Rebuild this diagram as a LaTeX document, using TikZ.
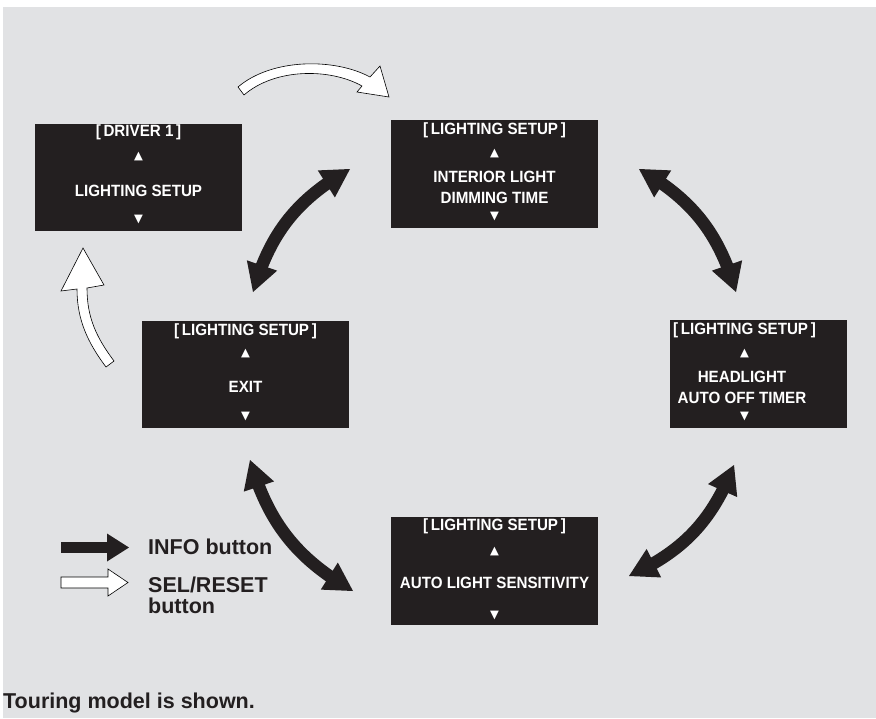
\documentclass[tikz,border=0pt]{standalone}
\usepackage{fontspec}
\setmainfont{Liberation Sans}
\newfontfamily\lcdfont[FakeStretch=0.93]{Liberation Sans}
\newfontfamily\symfont{DejaVu Sans}
\usetikzlibrary{arrows.meta,bending}
\definecolor{bgc}{HTML}{E1E2E4}
\definecolor{scrc}{HTML}{231F20}
\tikzset{
  screenbox/.style={fill=scrc, draw=none, inner sep=0pt, outer sep=0pt, minimum height=107pt},
  lcdtext/.style={text=white, inner sep=0pt, font=\lcdfont\bfseries\fontsize{16.3}{18}\selectfont},
  tritext/.style={text=white, inner sep=0pt, font=\symfont\fontsize{11.5}{12}\selectfont},
  infoarrow/.style={draw=scrc, line width=12.5pt,
    arrows={Triangle[length=28pt,width=32pt,line width=0pt]-Triangle[length=28pt,width=32pt,line width=0pt]}},
  selarrow/.style={fill=white, draw=black, line width=0.6pt, line join=miter},
  legendtext/.style={inner sep=0pt, anchor=base west, text=scrc, font=\bfseries\fontsize{21.5}{24}\selectfont}
}
\begin{document}
\begin{tikzpicture}[x=1pt,y=-1pt]
\useasboundingbox (0,0) rectangle (876,718);
\fill[bgc] (3,7) rectangle (876,718);

% screens
\node[screenbox, minimum width=207pt] (s1) at (138.5,177.5) {};
\node[lcdtext] (s1t) at (138.5,132) {[\,DRIVER 1\,]};
\node[tritext] (s1u) at (138.5,157) {▲};
\node[lcdtext] (s1m) at (138.5,191) {LIGHTING SETUP};
\node[tritext] (s1d) at (138.5,220) {▼};

\node[screenbox, minimum width=207pt, minimum height=108pt] (s2) at (494.5,174) {};
\node[lcdtext] (s2t) at (494.5,130.5) {[\,LIGHTING SETUP\,]};
\node[tritext] (s2u) at (494.5,154) {▲};
\node[lcdtext] (s2m) at (494.5,176.5) {INTERIOR LIGHT};
\node[lcdtext] (s2n) at (494.5,197.5) {DIMMING TIME};
\node[tritext] (s2d) at (494.5,217) {▼};

\node[screenbox, minimum width=207pt] (s3) at (245.5,374.5) {};
\node[lcdtext] (s3t) at (245.5,331.5) {[\,LIGHTING SETUP\,]};
\node[tritext] (s3u) at (245.5,354) {▲};
\node[lcdtext] (s3m) at (245.5,387) {EXIT};
\node[tritext] (s3d) at (245.5,417) {▼};

\node[screenbox, minimum width=177pt, minimum height=108pt] (s4) at (758.5,374) {};
\node[lcdtext] (s4t) at (744.5,330.5) {[\,LIGHTING SETUP\,]};
\node[tritext] (s4u) at (744.5,354) {▲};
\node[lcdtext] (s4m) at (742,376.5) {HEADLIGHT};
\node[lcdtext] (s4n) at (742,398) {AUTO OFF TIMER};
\node[tritext] (s4d) at (744.5,417) {▼};

\node[screenbox, minimum width=207pt, minimum height=108pt] (s5) at (494.5,571) {};
\node[lcdtext] (s5t) at (494.5,526.5) {[\,LIGHTING SETUP\,]};
\node[tritext] (s5u) at (494.5,551.5) {▲};
\node[lcdtext] (s5m) at (494.5,583) {AUTO LIGHT SENSITIVITY};
\node[tritext] (s5d) at (494.5,616) {▼};

% INFO button connectors
\coordinate (ul1) at (253,292); \coordinate (ul2) at (350,169);
\coordinate (ur1) at (639,169); \coordinate (ur2) at (736,292);
\coordinate (lr1) at (734,465); \coordinate (lr2) at (629,576);
\coordinate (ll1) at (250,460); \coordinate (ll2) at (353,591);
\draw[infoarrow] (ul1) to[bend left=22] (ul2);
\draw[infoarrow] (ur1) to[bend left=22] (ur2);
\draw[infoarrow] (lr1) to[bend left=22] (lr2);
\draw[infoarrow] (ll1) to[bend right=22] (ll2);

% SEL/RESET arrows
\draw[selarrow] (238,87) .. controls (272,58) and (335,58) .. (370,77) -- (380,66) -- (389,97) -- (357,92) -- (362,86) .. controls (330,68) and (275,68) .. (244,95) -- cycle;
\draw[selarrow] (114,361) .. controls (96,337) and (87,317) .. (87,288) -- (104,285) -- (83,248) -- (61,291) -- (77,289) .. controls (77,320) and (88,343) .. (106,367) -- cycle;

% legend
\coordinate (lb1) at (61,547.5); \coordinate (lb2) at (129,547.5);
\draw[draw=scrc, line width=11pt, arrows={-Triangle[length=22pt,width=28pt,line width=0pt]}] (lb1) -- (lb2);
\draw[selarrow] (61,577) -- (108,577) -- (108,569) -- (128,582.5) -- (108,596) -- (108,588) -- (61,588) -- cycle;
\node[legendtext] (info) at (148,554) {INFO button};
\node[legendtext] (sel1) at (148,592.7) {SEL/RESET};
\node[legendtext] (sel2) at (148,613) {button};
\node[legendtext] (note) at (3,708) {Touring model is shown.};
\end{tikzpicture}
\end{document}
